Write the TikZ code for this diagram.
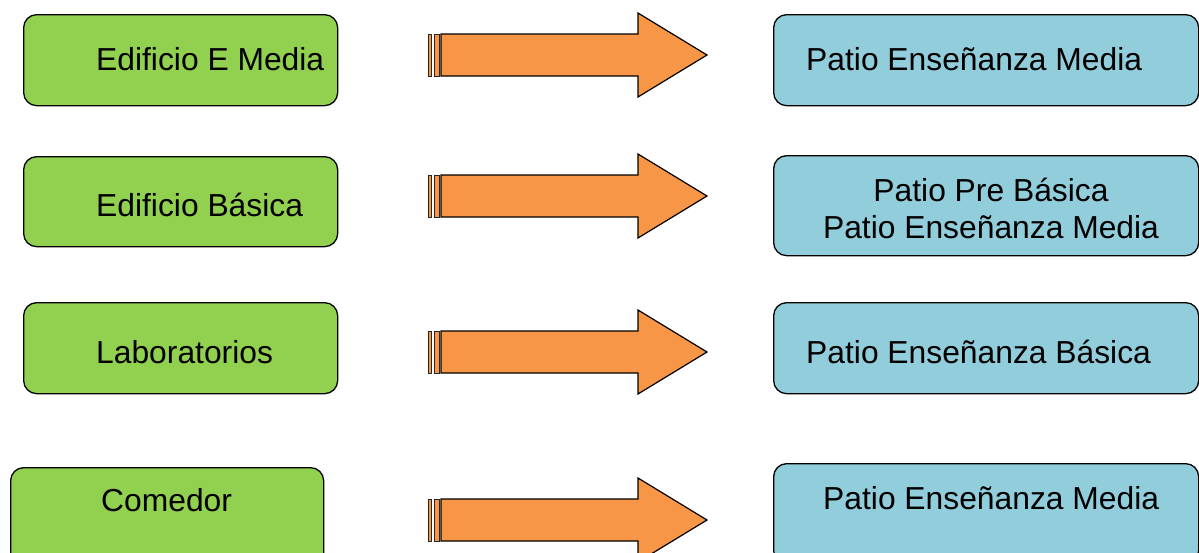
\documentclass[tikz,border=0pt]{standalone}
\usepackage{fontspec}
\setmainfont{Liberation Sans}
\definecolor{boxgreen}{HTML}{92D050}
\definecolor{boxblue}{HTML}{92CDDC}
\definecolor{arroworange}{HTML}{F79646}
\begin{document}
\begin{tikzpicture}[x=1pt,y=-1pt,
  box/.style={draw=black, line width=1.3pt, rounded corners=13pt, inner sep=0pt, anchor=north west},
  gbox/.style={box, fill=boxgreen},
  bbox/.style={box, fill=boxblue},
  txt/.style={font=\fontsize{31.8}{37}\selectfont, inner sep=0pt, anchor=base west},
  ctxt/.style={font=\fontsize{31.8}{37}\selectfont, inner sep=0pt, align=center},
  arr/.style={draw=black, line width=1.2pt, fill=arroworange, line join=miter},
  stripe/.style={draw=black!85, line width=0.8pt, fill=arroworange}
]
\useasboundingbox (0,0) rectangle (1199,552);

% left boxes
\node[gbox, minimum width=314pt, minimum height=91pt] (g1) at (23,14) {};
\node[gbox, minimum width=314pt, minimum height=90pt] (g2) at (23,156) {};
\node[gbox, minimum width=314pt, minimum height=91pt] (g3) at (23,302) {};
\node[gbox, minimum width=313pt, minimum height=100pt] (g4) at (10,467) {};

\node[txt] (t1) at (96,70) {Edificio E Media};
\node[txt] (t2) at (96,216) {Edificio Básica};
\node[txt] (t3) at (96,363) {Laboratorios};
\node[txt] (t4) at (101,511) {Comedor};

% right boxes
\node[bbox, minimum width=425pt, minimum height=91pt] (b1) at (773,14) {};
\node[bbox, minimum width=425pt, minimum height=100pt] (b2) at (773,155) {};
\node[bbox, minimum width=425pt, minimum height=91pt] (b3) at (773,302) {};
\node[bbox, minimum width=425pt, minimum height=100pt] (b4) at (773,463) {};

\node[txt] (s1) at (806,70) {Patio Enseñanza Media};
\node[ctxt] (s2) at (991,208) {Patio Pre Básica\\Patio Enseñanza Media};
\node[txt] (s3) at (806,363) {Patio Enseñanza Básica};
\node[txt] (s4) at (823,509) {Patio Enseñanza Media};

% block arrows
\foreach \cy/\n in {55/a1,196/a2,352/a3,520/a4}{
  \coordinate (\n) at (441,\cy);
  \draw[stripe] (428.5,\cy-21) rectangle (431.5,\cy+21);
  \draw[stripe] (434,\cy-21) rectangle (439.5,\cy+21);
  \draw[arr] (\n) ++(0,-21) -- (638,\cy-21) -- (638,\cy-42) -- (707,\cy)
     -- (638,\cy+42) -- (638,\cy+21) -- (441,\cy+21) -- cycle;
}
\end{tikzpicture}
\end{document}
